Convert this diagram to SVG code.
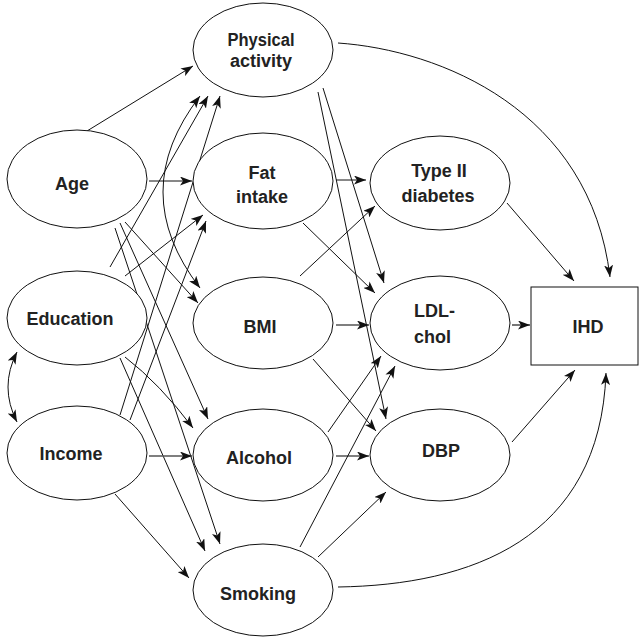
<svg xmlns="http://www.w3.org/2000/svg" width="640" height="637" viewBox="0 0 640 637">
<style>
.n{fill:#fff;stroke:#111;stroke-width:1}
.t{font-family:"Liberation Sans",Arial,sans-serif;font-weight:bold;font-size:18px;fill:#222;text-anchor:middle}
.e{fill:none;stroke:#111;stroke-width:1;marker-end:url(#ah)}
.g{stroke:#555;stroke-width:1.6}
.b{marker-start:url(#ah)}
</style>
<defs>
<marker id="ah" markerUnits="userSpaceOnUse" markerWidth="12" markerHeight="9" refX="12" refY="4.5" orient="auto-start-reverse">
<path d="M0,0 L12,4.5 L0,9 L3,4.5 z" fill="#111"/>
</marker>
</defs>
<rect width="640" height="637" fill="#fff"/>
<g id="connectors">
<line class="e" x1="87" y1="131" x2="193" y2="66"/>
<line class="e" x1="149" y1="181" x2="192" y2="181"/>
<line class="e" x1="125" y1="222" x2="198" y2="303"/>
<line class="e" x1="120" y1="223" x2="208" y2="419"/>
<line class="e" x1="115" y1="228" x2="220" y2="544"/>
<line class="e" x1="110" y1="267" x2="208" y2="96"/>
<line class="e" x1="125" y1="276" x2="203" y2="215"/>
<path class="e" d="M125,357 Q160,384 193,428"/>
<line class="e" x1="120" y1="358" x2="205" y2="551"/>
<line class="e" x1="120" y1="415" x2="220" y2="96"/>
<line class="e" x1="130" y1="420" x2="206" y2="221"/>
<line class="e g" x1="149" y1="456" x2="192" y2="456"/>
<line class="e" x1="115" y1="494" x2="189" y2="578"/>
<path class="e b" d="M17,352 Q-1,387 17,422"/>
<path class="e b" d="M200,96 Q126,192 200,288"/>
<path class="e" d="M338,43 C440,50 590,110 610,277"/>
<line class="e" x1="323" y1="88" x2="384" y2="283"/>
<line class="e" x1="318" y1="92" x2="386" y2="419"/>
<line class="e" x1="336" y1="180" x2="366" y2="180"/>
<line class="e" x1="303" y1="223" x2="375" y2="293"/>
<line class="e" x1="300" y1="276" x2="375" y2="206"/>
<line class="e g" x1="336" y1="325" x2="369" y2="325"/>
<line class="e" x1="313" y1="359" x2="376" y2="431"/>
<line class="e" x1="328" y1="432" x2="381" y2="356"/>
<line class="e g" x1="336" y1="456" x2="369" y2="456"/>
<line class="e" x1="300" y1="547" x2="395" y2="366"/>
<line class="e" x1="318" y1="557" x2="386" y2="492"/>
<path class="e" d="M338,587 C470,585 600,540 606,373"/>
<line class="e" x1="507" y1="203" x2="574" y2="281"/>
<line class="e g" x1="512" y1="325" x2="530" y2="325"/>
<line class="e" x1="512" y1="442" x2="575" y2="370"/>
</g>
<g id="physical-activity"><ellipse class="n" cx="263" cy="50" rx="70" ry="47"/><text class="t" x="261" y="46" textLength="67" lengthAdjust="spacingAndGlyphs">Physical</text><text class="t" x="261" y="67">activity</text></g>
<g id="fat-intake"><ellipse class="n" cx="263" cy="181" rx="70" ry="48"/><text class="t" x="262" y="179">Fat</text><text class="t" x="262" y="203">intake</text></g>
<g id="age"><ellipse class="n" cx="77" cy="179" rx="70" ry="49"/><text class="t" x="72" y="190">Age</text></g>
<g id="education"><ellipse class="n" cx="77" cy="318" rx="70" ry="47"/><text class="t" x="70" y="325">Education</text></g>
<g id="bmi"><ellipse class="n" cx="263" cy="323" rx="70" ry="46"/><text class="t" x="260" y="333">BMI</text></g>
<g id="income"><ellipse class="n" cx="77" cy="453" rx="70" ry="47"/><text class="t" x="71" y="460">Income</text></g>
<g id="alcohol"><ellipse class="n" cx="263" cy="455" rx="70" ry="46"/><text class="t" x="259" y="464">Alcohol</text></g>
<g id="smoking"><ellipse class="n" cx="263" cy="590" rx="70" ry="46"/><text class="t" x="258" y="600">Smoking</text></g>
<g id="type-ii-diabetes"><ellipse class="n" cx="440" cy="183" rx="70" ry="47"/><text class="t" x="439" y="177">Type II</text><text class="t" x="438" y="202">diabetes</text></g>
<g id="ldl-chol"><ellipse class="n" cx="440" cy="323" rx="70" ry="47"/><text class="t" x="414" y="317" style="text-anchor:start">LDL-</text><text class="t" x="414" y="343" style="text-anchor:start">chol</text></g>
<g id="dbp"><ellipse class="n" cx="440" cy="455" rx="70" ry="46"/><text class="t" x="441" y="457">DBP</text></g>
<g id="ihd"><rect class="n" x="531" y="287" width="107" height="78"/><text class="t" x="588" y="333">IHD</text></g>
</svg>
